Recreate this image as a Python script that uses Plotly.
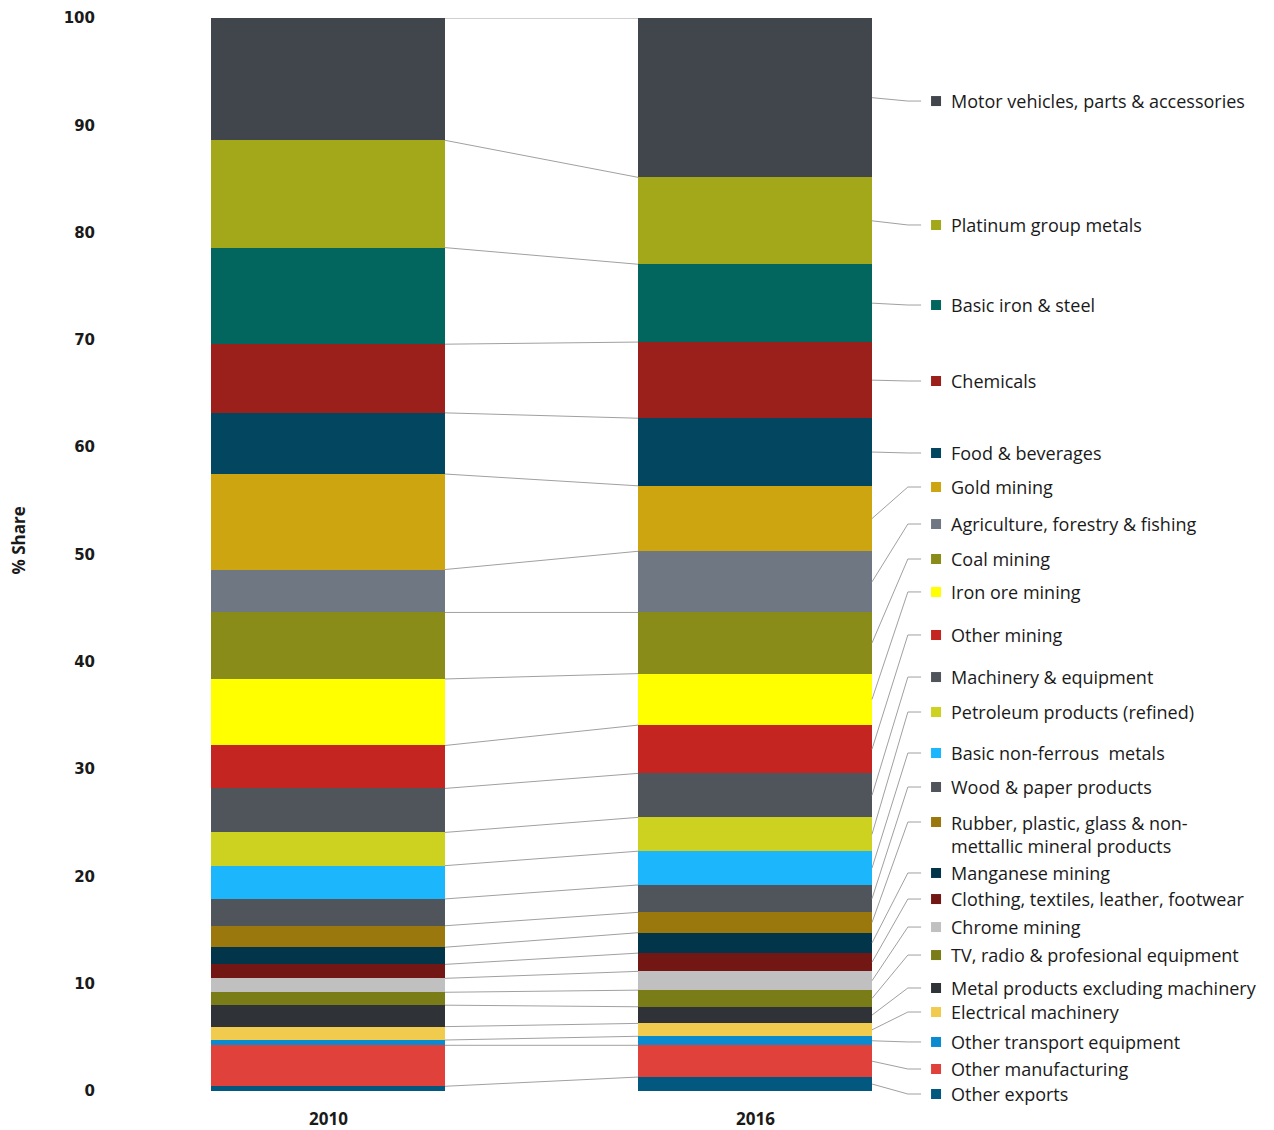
import plotly.graph_objects as go

# ---------------- data (top of stack -> bottom) ----------------
YEARS = ["2010", "2016"]
SECTORS = [
    "Motor vehicles, parts & accessories",
    "Platinum group metals",
    "Basic iron & steel",
    "Chemicals",
    "Food & beverages",
    "Gold mining",
    "Agriculture, forestry & fishing",
    "Coal mining",
    "Iron ore mining",
    "Other mining",
    "Machinery & equipment",
    "Petroleum products (refined)",
    "Basic non-ferrous  metals",
    "Wood & paper products",
    "Rubber, plastic, glass & non-<br>mettallic mineral products",
    "Manganese mining",
    "Clothing, textiles, leather, footwear",
    "Chrome mining",
    "TV, radio & profesional equipment",
    "Metal products excluding machinery",
    "Electrical machinery",
    "Other transport equipment",
    "Other manufacturing",
    "Other exports",
]
SHARE_2010 = [11.4, 10.0, 9.0, 6.4, 5.7, 8.9, 4.0, 6.2, 6.2, 4.0, 4.1, 3.1,
              3.1, 2.5, 2.0, 1.6, 1.3, 1.3, 1.2, 2.0, 1.25, 0.49, 3.82, 0.44]
SHARE_2016 = [14.85, 8.1, 7.25, 7.1, 6.3, 6.1, 5.7, 5.7, 4.8, 4.5, 4.1, 3.15,
              3.15, 2.55, 1.9, 1.9, 1.7, 1.75, 1.55, 1.55, 1.2, 0.84, 2.96, 1.3]
Y_TICKS = [0, 10, 20, 30, 40, 50, 60, 70, 80, 90, 100]

# ---------------- styles / layout helpers ----------------
COLORS = [
    "#41464d", "#a3a81b", "#02665f", "#9b1f1a", "#02465f", "#cda511",
    "#6f7782", "#8a8c1a", "#ffff00", "#c42520", "#50555c", "#cdd221",
    "#1bb6fb", "#50555c", "#9a780e", "#02344a", "#731714", "#c0c0c0",
    "#7a7c17", "#2f3237", "#f0cb4e", "#0a8bcf", "#e0423b", "#02587f",
]
# label anchor heights (axis units) for the right-hand callouts
LABEL_Y = [92.26, 80.71, 73.25, 66.17, 59.46, 56.29, 52.84, 49.58, 46.51,
           42.50, 38.58, 35.32, 31.50, 28.33, 25.07, 20.32, 17.89, 15.28,
           12.67, 9.60, 7.36, 4.57, 2.05, -0.28]

BAR_W = 0.548
X_POS = [0, 1]
ELBOW_X = 1.358
LINE_END_X = 1.389
MARK_X = 1.424
TEXT_X = 1.454
GREY = "#a0a0a0"
TXT = "#1a1a1a"

fig = go.Figure()

# stacked bars (bottom first)
n = len(SECTORS)
for i in reversed(range(n)):
    fig.add_trace(go.Bar(
        x=X_POS, y=[SHARE_2010[i], SHARE_2016[i]], width=BAR_W,
        marker=dict(color=COLORS[i], line=dict(width=0)),
        name=SECTORS[i].replace("<br>", ""), showlegend=False,
        hoverinfo="name+y",
    ))

# cumulative tops (computed from data)
def tops(shares):
    out = []
    acc = 100.0
    for v in shares:
        out.append(acc)
        acc -= v
    return out

top10 = tops(SHARE_2010)
top16 = tops(SHARE_2016)
mid16 = [t - v / 2 for t, v in zip(top16, SHARE_2016)]

# connectors between the two bars
for a, b in zip(top10, top16):
    fig.add_shape(type="line", x0=X_POS[0] + BAR_W / 2, x1=X_POS[1] - BAR_W / 2,
                  y0=a, y1=b, line=dict(color=GREY, width=1), layer="below")

# leader lines from 2016 bar to labels
for m, ly in zip(mid16, LABEL_Y):
    fig.add_shape(type="path",
                  path=f"M {X_POS[1] + BAR_W / 2} {m} L {ELBOW_X} {ly} L {LINE_END_X} {ly}",
                  line=dict(color=GREY, width=1), layer="above")

# legend markers
fig.add_trace(go.Scatter(
    x=[MARK_X] * n, y=LABEL_Y, mode="markers",
    marker=dict(symbol="square", size=10, color=COLORS, line=dict(width=0)),
    showlegend=False, hoverinfo="skip", cliponaxis=False,
))

# legend texts
for s, ly in zip(SECTORS, LABEL_Y):
    multi = "<br>" in s
    fig.add_annotation(
        x=TEXT_X, y=ly, text=s, showarrow=False, xanchor="left",
        yanchor="top" if multi else "middle", yshift=13 if multi else 0,
        align="left",
        font=dict(family="Open Sans", size=18, color=TXT),
    )

# year labels
for x, yr in zip(X_POS, YEARS):
    fig.add_annotation(x=x, y=0, text=f"<b>{yr}</b>", showarrow=False,
                       yanchor="middle", yshift=-27, borderpad=0,
                       font=dict(family="Open Sans", size=17, color=TXT))

# y axis title
fig.add_annotation(xref="paper", x=-0.0698, y=51.3, text="<b>% Share</b>",
                   textangle=-90, showarrow=False, xanchor="center",
                   yanchor="middle",
                   font=dict(family="Open Sans", size=17, color=TXT))

fig.update_layout(
    width=1274, height=1130,
    margin=dict(l=100, r=0, t=18, b=3),
    barmode="stack",
    plot_bgcolor="white", paper_bgcolor="white",
    xaxis=dict(range=[-0.534, 2.2155], showticklabels=False, showgrid=False,
               zeroline=False, showline=False, fixedrange=True),
    yaxis=dict(range=[-3.355, 100], tickvals=Y_TICKS, showgrid=False,
               zeroline=False, showline=False, ticks="",
               ticklabelstandoff=4,
               tickfont=dict(family="DejaVu Sans", size=15, color=TXT,
                             weight="bold")),
)

fig.write_html("out.html")
